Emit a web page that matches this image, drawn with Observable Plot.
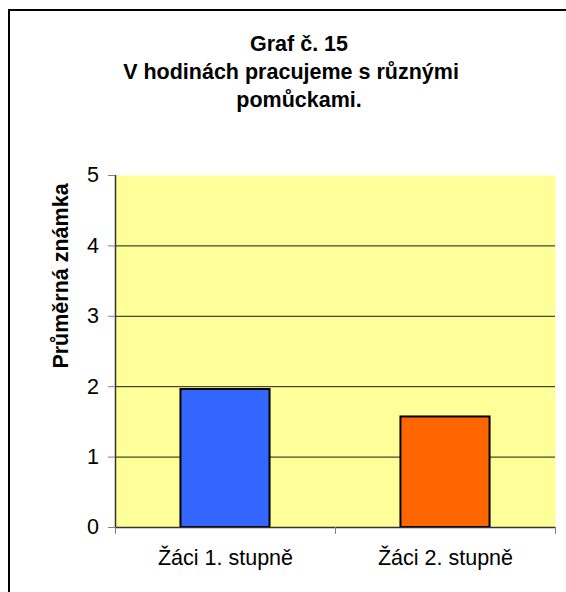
<!DOCTYPE html>
<html><head><meta charset="utf-8">
<script src="https://cdn.jsdelivr.net/npm/d3@7"></script>
<script src="https://cdn.jsdelivr.net/npm/@observablehq/plot@0.6"></script>
<style>
html,body{margin:0;padding:0;background:#fff;overflow:hidden;}
body{width:566px;height:592px;position:relative;font-family:"Liberation Sans",Arial,sans-serif;}
#frame{position:absolute;left:8px;top:9px;width:700px;height:700px;border-left:2px solid #000;border-top:2px solid #000;pointer-events:none;}
#title{box-sizing:border-box;width:566px;height:115px;padding:30px 0 0 32px;text-align:center;font-weight:bold;font-size:21.5px;line-height:28px;color:#000;}
#title span{display:block;position:relative;white-space:nowrap;}
#title span.l1{left:-8px;}
#chart svg{display:block;}
</style></head><body>
<div id="title"></div><div id="chart"></div><div id="frame"></div>
<script>
const titleLines = ["Graf č. 15", "V hodinách pracujeme s různými", "pomůckami."];
const yLabel = "Průměrná známka";
const categories = ["Žáci 1. stupně", "Žáci 2. stupně"];
const values = [1.96, 1.57];
const colors = ["#3366FF", "#FF6600"];
const yTicks = [0, 1, 2, 3, 4, 5];
const gridValues = [1, 2, 3, 4];

const titleEl = document.getElementById("title");
titleLines.forEach((t, i) => {
  const s = document.createElement("span");
  s.className = "l" + i;
  s.textContent = t;
  titleEl.appendChild(s);
});

const bars = categories.map((c, i) => ({category: c, value: values[i], color: colors[i], i}));
const barWidth = 0.405;
const fontFamily = '"Liberation Sans", Arial, sans-serif';

const chart = Plot.plot({
  width: 566,
  height: 477,
  marginLeft: 115,
  marginRight: 11,
  marginTop: 60,
  marginBottom: 65,
  style: {fontFamily, background: "transparent", color: "#000"},
  x: {domain: [0, categories.length]},
  y: {domain: [0, 5]},
  color: {type: "identity"},
  marks: [
    Plot.frame({fill: "#FFFF99", stroke: "none"}),
    Plot.ruleY(gridValues, {stroke: "#1a1a1a", strokeWidth: 1}),
    Plot.rectY(bars, {
      x1: d => d.i + (1 - barWidth) / 2,
      x2: d => d.i + (1 + barWidth) / 2,
      y1: 0, y2: "value",
      fill: "color", stroke: "#000", strokeWidth: 2
    }),
    Plot.ruleX([0], {stroke: "#333", strokeWidth: 1.5}),
    Plot.ruleY([0], {stroke: "#333", strokeWidth: 1.5}),
    Plot.axisY({ticks: yTicks, tickSize: 7, tickPadding: 9.5, fontSize: 21.5, stroke: "#808080", fill: "#000", label: null, tickFormat: d => String(d)}),
    Plot.axisX({ticks: d3.range(categories.length + 1), tickSize: 7, tickFormat: () => "", stroke: "#808080", label: null}),
    Plot.axisX({ticks: categories.map((_, i) => i + 0.5), tickSize: 0, tickPadding: 22.7, fontSize: 21.5, fill: "#000", label: null, tickFormat: v => categories[Math.floor(v)]}),
    Plot.text([yLabel], {text: d => d, frameAnchor: "top-left", rotate: -90, textAnchor: "middle", lineAnchor: "middle", dx: -54, dy: 100.5, fontWeight: "bold", fontSize: 21.5, fill: "#000"})
  ]
});
document.getElementById("chart").appendChild(chart);
</script>
</body></html>
